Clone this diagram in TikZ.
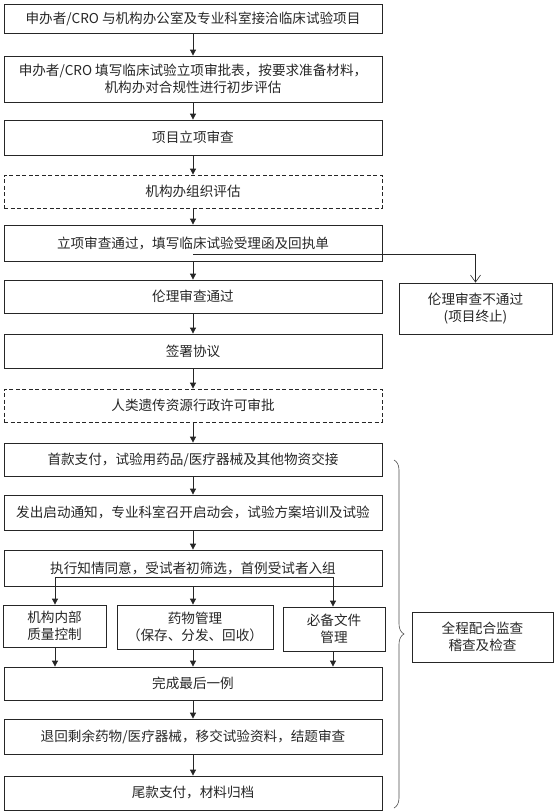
\documentclass[tikz,border=0pt]{standalone}
\usepackage{fontspec}
\newfontfamily\cjk{Noto Sans CJK SC}
\usetikzlibrary{arrows.meta,decorations.pathreplacing}
\begin{document}
\begin{tikzpicture}[x=1pt,y=-1pt,
  every node/.style={font=\cjk\fontsize{13.6}{17.5}\selectfont, text=black!85},
  box/.style={draw=black!85, line width=0.8pt, inner sep=0pt, align=center, minimum width=378pt},
  dbox/.style={box, dash pattern=on 4pt off 2.5pt},
  arr/.style={draw=black!85, line width=0.8pt, -{Triangle[length=6pt,width=6pt]}},
  oarr/.style={draw=black!85, line width=0.8pt, -{Straight Barb[length=7pt,width=10pt,line width=0.6pt]}},
  ln/.style={draw=black!85, line width=0.8pt}]
\useasboundingbox (0,0) rectangle (554,811);
\node[box, minimum height=29pt] (b1) at (193,18.5) {申办者/CRO 与机构办公室及专业科室接洽临床试验项目};
\node[box, minimum height=46pt] (b2) at (193,79) {申办者/CRO 填写临床试验立项审批表，按要求准备材料，\\机构办对合规性进行初步评估};
\node[box, minimum height=35pt] (b3) at (193,137.5) {项目立项审查};
\node[dbox, minimum height=33pt] (b4) at (193,191.5) {机构办组织评估};
\node[box, minimum height=36pt] (b5) at (193,243) {立项审查通过，填写临床试验受理函及回执单};
\node[box, minimum height=33pt] (b6) at (193,296.5) {伦理审查通过};
\node[box, minimum width=153pt, minimum height=51pt] (b7) at (475.5,308.5) {伦理审查不通过\\(项目终止)};
\node[box, minimum height=34pt] (b8) at (193,351) {签署协议};
\node[dbox, minimum height=33pt] (b9) at (193,405.5) {人类遗传资源行政许可审批};
\node[box, minimum height=33pt] (b10) at (193,459.5) {首款支付，试验用药品/医疗器械及其他物资交接};
\node[box, minimum height=35pt] (b11) at (193,512.5) {发出启动通知，专业科室召开启动会，试验方案培训及试验};
\node[box, minimum height=36pt] (b12) at (193,568) {执行知情同意，受试者初筛选，首例受试者入组};
\node[box, minimum width=103pt, minimum height=42pt] (qa) at (54.5,626) {机构内部\\质量控制};
\node[box, minimum width=156pt, minimum height=44pt] (qb) at (195,627) {药物管理\\（保存、分发、回收）};
\node[box, minimum width=102pt, minimum height=44pt] (qc) at (334,629) {必备文件\\管理};
\node[box, minimum height=33pt] (b13) at (193,683.5) {完成最后一例};
\node[box, minimum height=35pt] (b14) at (193,736.5) {退回剩余药物/医疗器械，移交试验资料，结题审查};
\node[box, minimum height=34pt] (b15) at (193,793) {尾款支付，材料归档};
\node[box, minimum width=141pt, minimum height=50pt] (b16) at (482.5,637) {全程配合监查\\稽查及检查};
% arrows main chain
\draw[arr] (b1.south) -- (b2.north);
\draw[arr] (b2.south) -- (b3.north);
\draw[arr] (b3.south) -- (b4.north);
\draw[arr] (b4.south) -- (b5.north);
\draw[arr] (b5.south) -- (b6.north);
\coordinate (j1) at ([yshift=7pt]b5.south);
\draw[ln] (j1) -- (j1 -| b7.north);
\draw[oarr] (j1 -| b7.north) -- (b7.north);
\draw[arr] (b6.south) -- (b8.north);
\draw[arr] (b8.south) -- (b9.north);
\draw[arr] (b9.south) -- (b10.north);
\draw[arr] (b10.south) -- (b11.north);
\draw[arr] (b11.south) -- (b12.north);
\coordinate (j2) at ([yshift=9pt]b12.south);
\draw[arr] (b12.south) -- (b12.south |- qb.north);
\draw[arr] (j2) -| ([xshift=0.5pt]qa.north);
\draw[arr] (j2) -| ([xshift=-1pt]qc.north);
\draw[arr] ([xshift=0.5pt]qa.south) -- ([xshift=0.5pt]qa.south |- b13.north);
\draw[arr] (b12.south |- qb.south) -- (b12.south |- b13.north);
\draw[arr] ([xshift=-1pt]qc.south) -- ([xshift=-1pt]qc.south |- b13.north);
\draw[arr] (b13.south) -- (b14.north);
\draw[arr] (b14.south) -- (b15.north);
% brace
\coordinate (bt) at (394,460);
\coordinate (bb) at (394,808);
\draw[draw=black!70, line width=0.6pt, decorate, decoration={brace, amplitude=10pt}] (bt) -- (bb);
\end{tikzpicture}
\end{document}
